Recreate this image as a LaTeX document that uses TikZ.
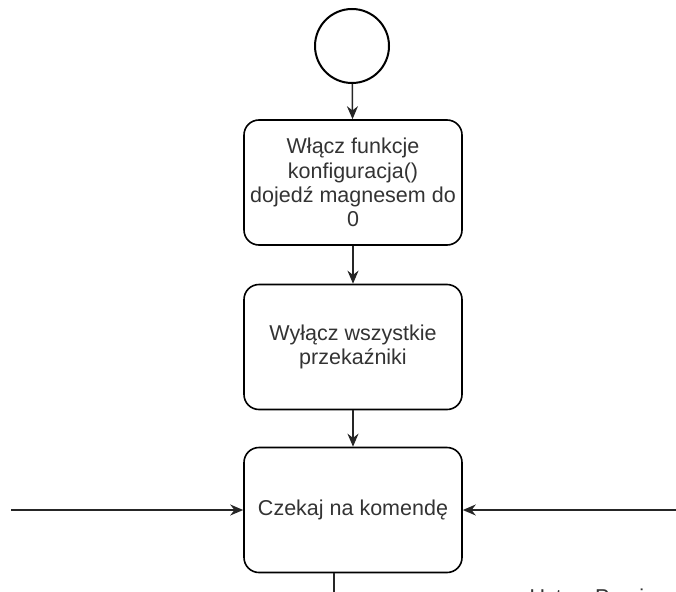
\documentclass[tikz,border=0pt]{standalone}
\usepackage{fontspec}
\setmainfont{Liberation Sans}
\usetikzlibrary{arrows.meta}
\tikzset{
    stepbox/.style={draw, line width=1.6pt, rounded corners=15pt, minimum width=218pt,
        minimum height=125pt, align=center, text=black!80,
        font=\fontsize{21.5pt}{24.3pt}\selectfont},
    flow/.style={line width=1.5pt, black!85, -{Stealth[length=13pt, width=11pt]}}
}
\begin{document}
\begin{tikzpicture}[x=1pt, y=-1pt]
        \useasboundingbox (0,0) rectangle (676,591);
        \clip (0,0) rectangle (676,591);
        % Nodes
        \node (start) [circle, draw, line width=2pt, minimum size=74pt, inner sep=0pt] at (352,46) {};
        \node (s1) [stepbox] at (353,182.5) {Włącz funkcje\\konfiguracja()\\dojedź magnesem do\\0};
        \node (s2) [stepbox] at (353,347) {Wyłącz wszystkie\\przekaźniki};
        \node (s3) [stepbox] at (353,510) {Czekaj na komendę};
        \node (s4) [anchor=west, text=black!80, font=\fontsize{21.5pt}{24.3pt}\selectfont] at (526,597) {Ustaw Pomiar};
        \coordinate (inL) at (11,510);
        \coordinate (inR) at (690,510);
        \coordinate (out) at (334,620);

        % Directed Edges
        \draw[flow] (start) -- (s1);
        \draw[flow] (s1) -- (s2);
        \draw[flow] (s2) -- (s3);
        \draw[flow] (inL) -- (s3);
        \draw[flow] (inR) -- (s3);
        \draw[line width=1.5pt, black!85] (s3.south -| out) -- (out);
    \end{tikzpicture}
\end{document}
